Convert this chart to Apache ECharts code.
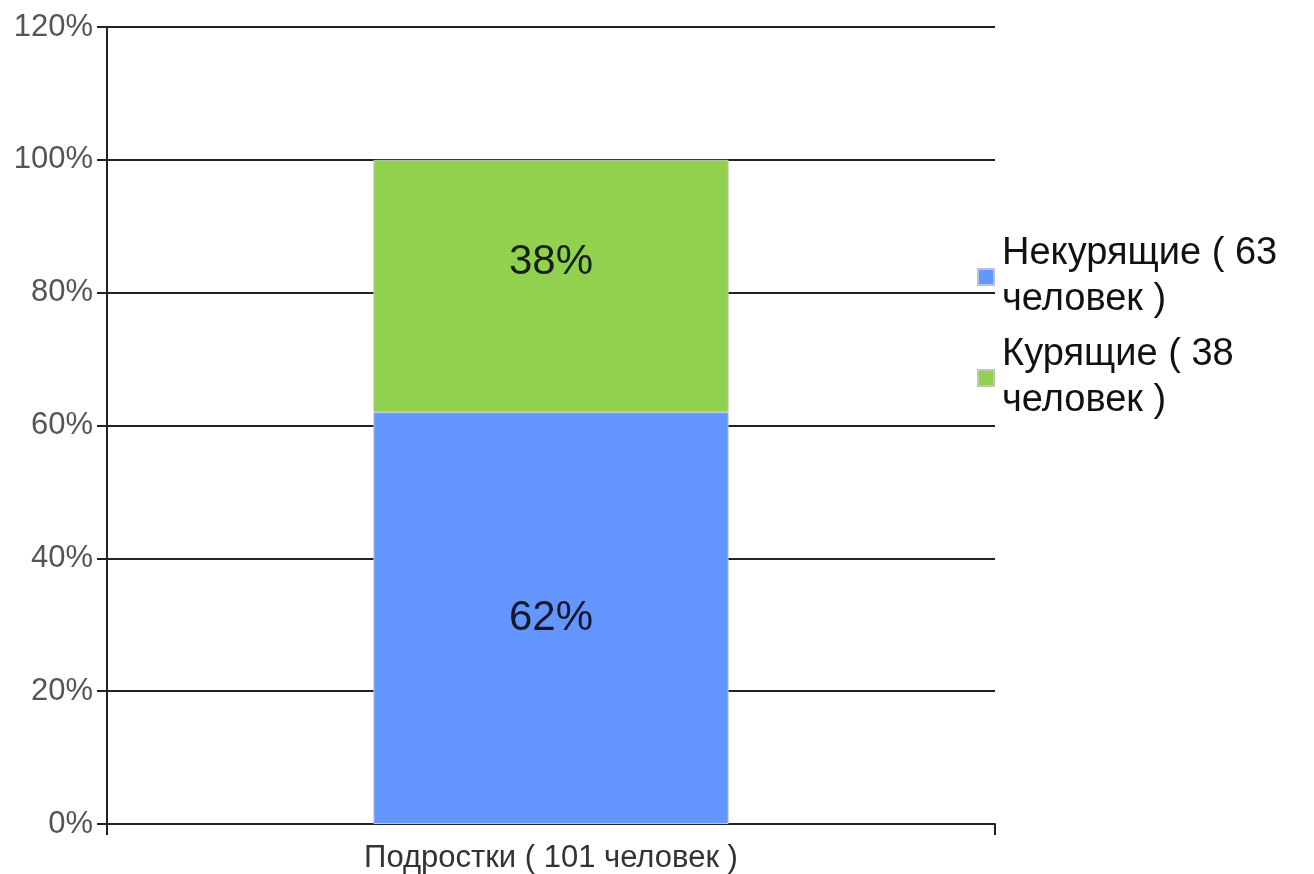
<!DOCTYPE html>
<html>
<head>
<meta charset="utf-8">
<script src="https://cdn.jsdelivr.net/npm/echarts@6/dist/echarts.min.js"></script>
<style>
html,body{margin:0;padding:0;background:#fff;}
#chart{width:1314px;height:874px;}
</style>
</head>
<body>
<div id="chart"></div>
<script>
var categories = ['Подростки ( 101 человек )'];
var seriesNames = ['Некурящие ( 63 человек )', 'Курящие ( 38 человек )'];
var legendLabels = ['Некурящие ( 63\nчеловек )', 'Курящие ( 38\nчеловек )'];
var nonSmokers = [62];
var smokers = [38];
var yTicks = [0, 20, 40, 60, 80, 100, 120];

var chart = echarts.init(document.getElementById('chart'), null, {renderer: 'canvas'});
var font = '"Liberation Sans", Arial, sans-serif';
chart.setOption({
  animation: false,
  backgroundColor: '#ffffff',
  grid: {left: 107, right: 319, top: 27, bottom: 49, containLabel: false},
  legend: {
    orient: 'vertical',
    left: 977,
    top: 231,
    padding: 0,
    itemGap: 9,
    itemWidth: 16,
    itemHeight: 16,
    icon: 'rect',
    formatter: function (name) {
      return legendLabels[seriesNames.indexOf(name)];
    },
    textStyle: {
      fontFamily: font, fontSize: 38, color: '#111', lineHeight: 46,
      padding: [0, 0, 0, 3]
    },
    data: seriesNames
  },
  xAxis: {
    type: 'category',
    data: categories,
    boundaryGap: true,
    axisLine: {show: true, lineStyle: {color: '#222', width: 2}},
    axisTick: {show: true, length: 11, lineStyle: {color: '#222', width: 2}},
    axisLabel: {fontFamily: font, fontSize: 31, color: '#333', margin: 19}
  },
  yAxis: {
    type: 'value',
    min: yTicks[0],
    max: yTicks[yTicks.length - 1],
    interval: 20,
    axisLine: {show: true, lineStyle: {color: '#222', width: 2}},
    axisTick: {show: true, length: 10, lineStyle: {color: '#222', width: 2}},
    axisLabel: {fontFamily: font, fontSize: 31, color: '#555', margin: 14, formatter: '{value}%'},
    splitLine: {show: true, lineStyle: {color: '#222', width: 2}}
  },
  series: [
    {
      name: seriesNames[0],
      type: 'bar',
      stack: 'total',
      barWidth: '40%',
      data: nonSmokers,
      itemStyle: {color: '#6496FF', borderColor: '#b8c4d8', borderWidth: 1},
      label: {show: true, position: 'inside', formatter: '{c}%', fontFamily: font, fontSize: 42, color: '#15182a'}
    },
    {
      name: seriesNames[1],
      type: 'bar',
      stack: 'total',
      barWidth: '40%',
      data: smokers,
      itemStyle: {color: '#92D050', borderColor: '#bcc8b0', borderWidth: 1},
      label: {show: true, position: 'inside', offset: [0, -24], formatter: '{c}%', fontFamily: font, fontSize: 42, color: '#152010'}
    }
  ]
});
</script>
</body>
</html>
